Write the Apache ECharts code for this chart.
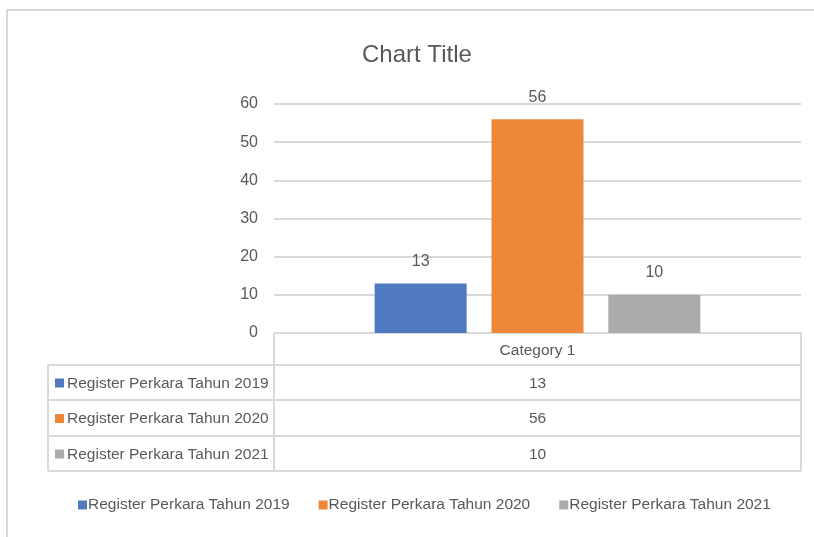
<!DOCTYPE html>
<html>
<head>
<meta charset="utf-8">
<title>Chart Title</title>
<script src="https://cdn.jsdelivr.net/npm/echarts@6/dist/echarts.min.js"></script>
<style>
  html, body { margin: 0; padding: 0; background: #fff; }
  #chart { width: 814px; height: 537px; }
</style>
</head>
<body>
<div id="chart"></div>
<script>
// data
const categories = ['Category 1'];
const seriesNames = ['Register Perkara Tahun 2019', 'Register Perkara Tahun 2020', 'Register Perkara Tahun 2021'];
const values2019 = [13];
const values2020 = [56];
const values2021 = [10];
const seriesColors = ['#4f7ac2', '#ef873a', '#ababab'];
const yTicks = [0, 10, 20, 30, 40, 50, 60];

const FONT = '"Liberation Sans", Arial, sans-serif';
const FS = 15.5;
const TXT = '#595959';
const LINE = '#d9d9d9';

// layout of plot + data table
const plotL = 274, plotR = 801, plotT = 104, plotB = 333;
const tableL = 48;
const rowLines = [333, 365, 400, 436, 471];

const allValues = [values2019, values2020, values2021];

const chart = echarts.init(document.getElementById('chart'));

// data table drawn with graphic elements
const graphics = [];
// outer frame
graphics.push({ type: 'rect', shape: { x: 7, y: 10, width: 820, height: 540 }, style: { fill: 'none', stroke: LINE, lineWidth: 2 } });
// horizontal lines
rowLines.forEach((y, i) => {
  const x1 = i === 0 ? plotL : tableL;
  graphics.push({ type: 'line', shape: { x1: x1, y1: y, x2: plotR, y2: y }, style: { stroke: LINE, lineWidth: 2 } });
});
// vertical lines
graphics.push({ type: 'line', shape: { x1: plotL, y1: rowLines[0], x2: plotL, y2: rowLines[4] }, style: { stroke: LINE, lineWidth: 2 } });
graphics.push({ type: 'line', shape: { x1: plotR, y1: rowLines[0], x2: plotR, y2: rowLines[4] }, style: { stroke: LINE, lineWidth: 2 } });
graphics.push({ type: 'line', shape: { x1: tableL, y1: rowLines[1], x2: tableL, y2: rowLines[4] }, style: { stroke: LINE, lineWidth: 2 } });
// header text
graphics.push({ type: 'text', x: (plotL + plotR) / 2, y: (rowLines[0] + rowLines[1]) / 2 + 2,
  style: { text: categories[0], fill: TXT, font: FS + 'px ' + FONT, textAlign: 'center', textVerticalAlign: 'middle' } });
// rows
seriesNames.forEach((name, i) => {
  const cy = (rowLines[i + 1] + rowLines[i + 2]) / 2 + 1;
  graphics.push({ type: 'rect', shape: { x: 55, y: cy - 5, width: 9, height: 9 }, style: { fill: seriesColors[i] } });
  graphics.push({ type: 'text', x: 67, y: cy,
    style: { text: name, fill: TXT, font: FS + 'px ' + FONT, textAlign: 'left', textVerticalAlign: 'middle' } });
  graphics.push({ type: 'text', x: (plotL + plotR) / 2, y: cy,
    style: { text: String(allValues[i][0]), fill: TXT, font: FS + 'px ' + FONT, textAlign: 'center', textVerticalAlign: 'middle' } });
});

const barLabel = { show: true, position: 'top', distance: 14, color: TXT, fontSize: 16, fontFamily: FONT };

chart.setOption({
  animation: false,
  title: {
    text: 'Chart Title', left: 357, top: 38,
    textStyle: { color: TXT, fontSize: 24, fontWeight: 'normal', fontFamily: FONT }
  },
  legend: {
    left: 78, top: 497, width: 730, padding: 0,
    icon: 'rect', itemWidth: 9, itemHeight: 9, itemGap: 29,
    textStyle: { color: TXT, fontSize: FS, fontFamily: FONT, padding: [0, 0, 0, -4] },
    data: seriesNames
  },
  grid: { left: plotL, right: 814 - plotR, top: plotT, bottom: 537 - plotB, containLabel: false },
  xAxis: {
    type: 'category', data: categories,
    axisLine: { show: false }, axisTick: { show: false }, axisLabel: { show: false }
  },
  yAxis: {
    type: 'value', min: yTicks[0], max: yTicks[yTicks.length - 1], interval: 10,
    axisLine: { show: false }, axisTick: { show: false },
    axisLabel: { color: TXT, fontSize: 16, fontFamily: FONT, margin: 16 },
    splitLine: { lineStyle: { color: LINE, width: 2 } }
  },
  series: [
    { name: seriesNames[0], type: 'bar', data: values2019, barWidth: 92, barGap: '27%', itemStyle: { color: seriesColors[0] }, label: barLabel },
    { name: seriesNames[1], type: 'bar', data: values2020, barWidth: 92, barGap: '27%', itemStyle: { color: seriesColors[1] }, label: barLabel },
    { name: seriesNames[2], type: 'bar', data: values2021, barWidth: 92, barGap: '27%', itemStyle: { color: seriesColors[2] }, label: barLabel }
  ],
  graphic: graphics
});
</script>
</body>
</html>
